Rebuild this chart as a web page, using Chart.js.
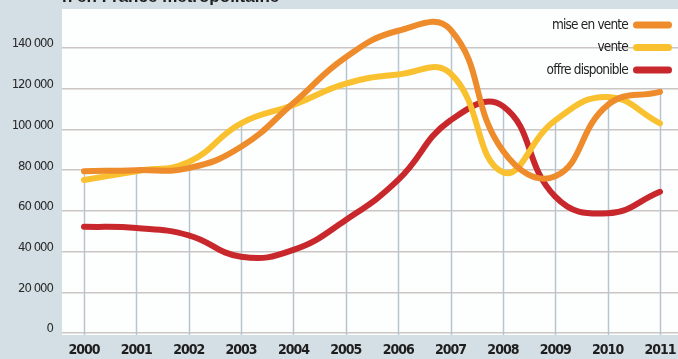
<!DOCTYPE html>
<html>
<head>
<meta charset="utf-8">
<script src="https://cdn.jsdelivr.net/npm/chart.js@4/dist/chart.umd.min.js"></script>
<style>
  html, body { margin: 0; padding: 0; background: #d4dee5; }
  #wrap { width: 678px; height: 359px; position: relative; }
</style>
</head>
<body>
<div id="wrap"><canvas id="c" width="678" height="359"></canvas></div>
<script>
// ---- data ----
const years = [2000, 2001, 2002, 2003, 2004, 2005, 2006, 2007, 2008, 2009, 2010, 2011];
const miseEnVente = [79500, 80000, 81000, 91500, 113000, 135500, 148500, 149000, 89500, 77000, 112000, 118500];
const vente = [75200, 79500, 84000, 103000, 112000, 122500, 127000, 127500, 79000, 104500, 116000, 103000];
const offreDisponible = [52200, 51600, 48000, 37500, 40800, 55500, 75200, 104500, 111500, 67000, 58800, 69400];
const yTicks = [0, 20000, 40000, 60000, 80000, 100000, 120000, 140000];
const seriesLabels = ['mise en vente', 'vente', 'offre disponible'];
const seriesColors = ['#ee8b2b', '#f9c12f', '#c8272b'];
const titleText = 'n en France métropolitaine';

const NARROW = '"Liberation Sans Narrow", "DejaVu Sans Condensed", "Liberation Sans", sans-serif';

function fmt(v) {
  return String(v).replace(/\B(?=(\d{3})+(?!\d))/g, ' ');
}
function toPoints(arr) {
  return years.map((y, i) => ({ x: y, y: arr[i] }));
}

// background: grey page, white plot area, tighter text
const bgPlugin = {
  id: 'bg',
  beforeDraw(chart) {
    const { ctx, chartArea: a } = chart;
    ctx.fillStyle = '#d4dee5';
    ctx.fillRect(0, 0, chart.width, chart.height);
    ctx.fillStyle = '#fdfefe';
    ctx.fillRect(a.left, a.top, a.right - a.left, a.bottom - a.top);
    // cut-off title at the very top
    ctx.save();
    ctx.fillStyle = '#1e1e1e';
    ctx.font = 'bold 17px "Liberation Sans", sans-serif';
    ctx.textBaseline = 'alphabetic';
    ctx.textAlign = 'left';
    ctx.fillText(titleText, a.left, 2);
    ctx.restore();
    if ('letterSpacing' in ctx) ctx.letterSpacing = '-1px';
  }
};

// vertical drop lines from the highest series value down to the bottom
const dropPlugin = {
  id: 'drop',
  beforeDatasetsDraw(chart) {
    const { ctx, chartArea: a, scales } = chart;
    const xs = scales.x, ys = scales.y;
    ctx.save();
    ctx.strokeStyle = '#b8c5d1';
    ctx.lineWidth = 1.5;
    years.forEach((yr, i) => {
      const top = Math.max(...chart.data.datasets.map(d => d.data[i].y));
      const px = Math.round(xs.getPixelForValue(yr)) + 0.5;
      ctx.beginPath();
      ctx.moveTo(px, ys.getPixelForValue(top));
      ctx.lineTo(px, a.bottom);
      ctx.stroke();
    });
    ctx.restore();
  }
};

// legend: right-aligned text followed by a rounded bar
const legendPlugin = {
  id: 'customLegend',
  afterDatasetsDraw(chart) {
    const { ctx, chartArea: a } = chart;
    ctx.save();
    if ('letterSpacing' in ctx) ctx.letterSpacing = '-0.8px';
    ctx.font = '13.5px ' + NARROW;
    ctx.textAlign = 'right';
    ctx.textBaseline = 'middle';
    chart.data.datasets.forEach((ds, i) => {
      const cy = a.top + 16 + i * 22.5;
      const boxR = a.right - 6, boxW = 39, boxH = 7;
      ctx.fillStyle = '#232323';
      ctx.fillText(ds.label, boxR - boxW - 5, cy);
      ctx.fillStyle = ds.borderColor;
      ctx.beginPath();
      ctx.roundRect(boxR - boxW, cy - boxH / 2, boxW, boxH, boxH / 2);
      ctx.fill();
    });
    ctx.restore();
  }
};

new Chart(document.getElementById('c'), {
  type: 'line',
  data: {
    datasets: [
      { label: seriesLabels[0], data: toPoints(miseEnVente), borderColor: seriesColors[0] },
      { label: seriesLabels[1], data: toPoints(vente), borderColor: seriesColors[1] },
      { label: seriesLabels[2], data: toPoints(offreDisponible), borderColor: seriesColors[2] }
    ]
  },
  options: {
    responsive: false,
    animation: false,
    devicePixelRatio: 1,
    layout: { padding: { top: 9, right: 0, left: 0, bottom: 0 } },
    elements: {
      line: { borderWidth: 6, tension: 0.45, borderCapStyle: 'round', borderJoinStyle: 'round', fill: false },
      point: { radius: 0, hoverRadius: 0 }
    },
    plugins: {
      legend: { display: false },
      tooltip: { enabled: false }
    },
    scales: {
      x: {
        type: 'linear',
        min: 1999.58,
        max: 2011.344,
        afterBuildTicks(s) { s.ticks = years.map(v => ({ value: v })); },
        afterFit(s) { s.height = 24; s.paddingLeft = 0; s.paddingRight = 0; },
        grid: { display: false, drawTicks: false },
        border: { display: false },
        ticks: {
          autoSkip: false,
          maxRotation: 0,
          padding: 7,
          color: '#1e1e1e',
          font: { family: NARROW, size: 14, weight: 'bold' },
          callback: v => String(v)
        }
      },
      y: {
        min: -1000,
        max: 159200,
        afterBuildTicks(s) { s.ticks = yTicks.map(v => ({ value: v })); },
        afterFit(s) { s.width = 62; s.paddingTop = 0; s.paddingBottom = 0; },
        grid: { color: '#cbc6c4', lineWidth: 1.5, drawTicks: false },
        border: { display: false },
        ticks: {
          padding: 9,
          labelOffset: -4,
          color: '#2a2a2a',
          font: { family: NARROW, size: 13 },
          callback: v => fmt(v)
        }
      }
    }
  },
  plugins: [bgPlugin, dropPlugin, legendPlugin]
});
</script>
</body>
</html>
